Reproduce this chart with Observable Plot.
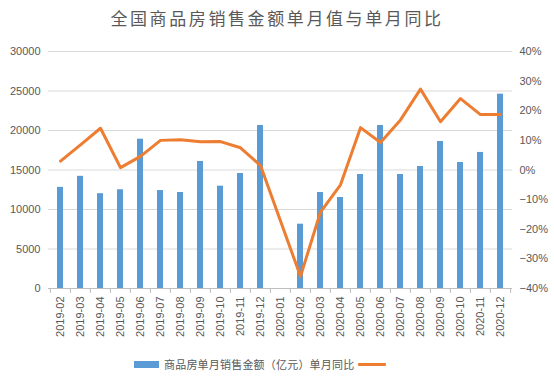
<!DOCTYPE html>
<html>
<head>
<meta charset="utf-8">
<script src="https://cdn.jsdelivr.net/npm/d3@7"></script>
<script src="https://cdn.jsdelivr.net/npm/@observablehq/plot@0.6"></script>
<style>
  html, body { margin: 0; padding: 0; background: #fff; }
  #wrap { position: relative; width: 554px; height: 384px; overflow: hidden; background: #fff; }
  #title { position: absolute; left: 0; top: 8px; width: 554px; text-align: center;
    font-family: "Noto Sans CJK SC", sans-serif; font-size: 17px; letter-spacing: 2.6px; color: #595959; line-height: 20px; }
  #chart { position: absolute; left: 0; top: 40px; }
  #legend { position: absolute; left: 0; top: 356px; width: 554px; height: 16px;
    font-family: "Noto Sans CJK SC", sans-serif; font-size: 11px; color: #595959; }
  .sw { position: absolute; }
  .lt { position: absolute; top: 0; line-height: 16px; letter-spacing: 0.2px; white-space: nowrap; }
</style>
</head>
<body>
<div id="wrap">
  <div id="title">全国商品房销售金额单月值与单月同比</div>
  <div id="chart"></div>
  <div id="legend"></div>
</div>
<script>
const months = ["2019-02","2019-03","2019-04","2019-05","2019-06","2019-07","2019-08","2019-09","2019-10","2019-11","2019-12","2020-01","2020-02","2020-03","2020-04","2020-05","2020-06","2020-07","2020-08","2020-09","2020-10","2020-11","2020-12"];
// 商品房单月销售金额（亿元）; null = no data
const salesValues = [12800,14200,12000,12500,18900,12400,12150,16080,12950,14560,20630,null,8140,12150,11520,14430,20630,14430,15440,18610,15950,17220,24600];
// 单月同比 (%)
const yoyValues = [3.0,8.5,14.1,0.8,4.6,10.0,10.2,9.5,9.6,7.5,1.5,null,-35.9,-14.2,-5.0,14.3,9.3,16.9,27.3,16.3,24.1,18.7,18.7];
const leftTicks = [0,5000,10000,15000,20000,25000,30000];
const rightTicks = [-40,-30,-20,-10,0,10,20,30,40];
const legendLabels = ["商品房单月销售金额（亿元）", "单月同比"];

const barColor = "#5B9BD5", lineColor = "#ED7D31";

const barData = months.map((m, i) => ({month: m, value: salesValues[i]})).filter(d => d.value != null);
const lineData = months.map((m, i) => ({month: m, pct: yoyValues[i]})).filter(d => d.pct != null);

// map the right-axis percentage domain [-40, 40] onto the left domain [0, 30000]
const toY = p => (p + 40) * (30000 / 80);

const width = 554, marginLeft = 48, marginRight = 42;
const bw = (width - marginLeft - marginRight) / months.length;

const plot = Plot.plot({
  width, height: 310,
  marginLeft, marginRight, marginTop: 11, marginBottom: 62,
  style: {fontFamily: "'Liberation Sans', Arial, sans-serif", fontSize: "11px", color: "#595959", background: "transparent", overflow: "visible"},
  x: {type: "band", domain: months, padding: 0, label: null},
  y: {domain: [0, 30000], label: null},
  marks: [
    Plot.gridY(leftTicks.filter(t => t > 0), {stroke: "#d9d9d9", strokeOpacity: 1}),
    Plot.barY(barData, {x: "month", y: "value", fill: barColor, insetLeft: 7, insetRight: 7}),
    Plot.lineY(lineData, {x: "month", y: d => toY(d.pct), stroke: lineColor, strokeWidth: 3, strokeLinejoin: "round", strokeLinecap: "round"}),
    Plot.ruleY([0], {stroke: "#bfbfbf"}),
    Plot.ruleX(months, {x: d => d, dx: -bw / 2, y1: 0, y2: 0, insetBottom: -5, stroke: "#bfbfbf"}),
    Plot.ruleX(months.slice(-1), {x: d => d, dx: bw / 2, y1: 0, y2: 0, insetBottom: -5, stroke: "#bfbfbf"}),
    Plot.axisY(leftTicks, {anchor: "left", tickSize: 0, tickPadding: 8, label: null, tickFormat: d => String(d)}),
    Plot.axisY(rightTicks.map(toY), {anchor: "right", tickSize: 0, tickPadding: 7, label: null,
      tickFormat: v => { const p = Math.round(v / (30000 / 80) - 40); return (p < 0 ? "\u2212" + (-p) : p) + "%"; }}),
    Plot.axisX({anchor: "bottom", tickRotate: -90, tickSize: 0, tickPadding: 8, label: null})
  ]
});
document.getElementById("chart").appendChild(plot);

// legend
const lg = document.getElementById("legend");
lg.innerHTML =
  `<div class="sw" style="left:134px;top:5px;width:25px;height:7px;background:${barColor}"></div>` +
  `<div class="lt" style="left:164px">${legendLabels[0]}${legendLabels[1]}</div>` +
  `<div class="sw" style="left:358px;top:7px;width:28px;height:3px;background:${lineColor};border-radius:1px"></div>`;
</script>
</body>
</html>
